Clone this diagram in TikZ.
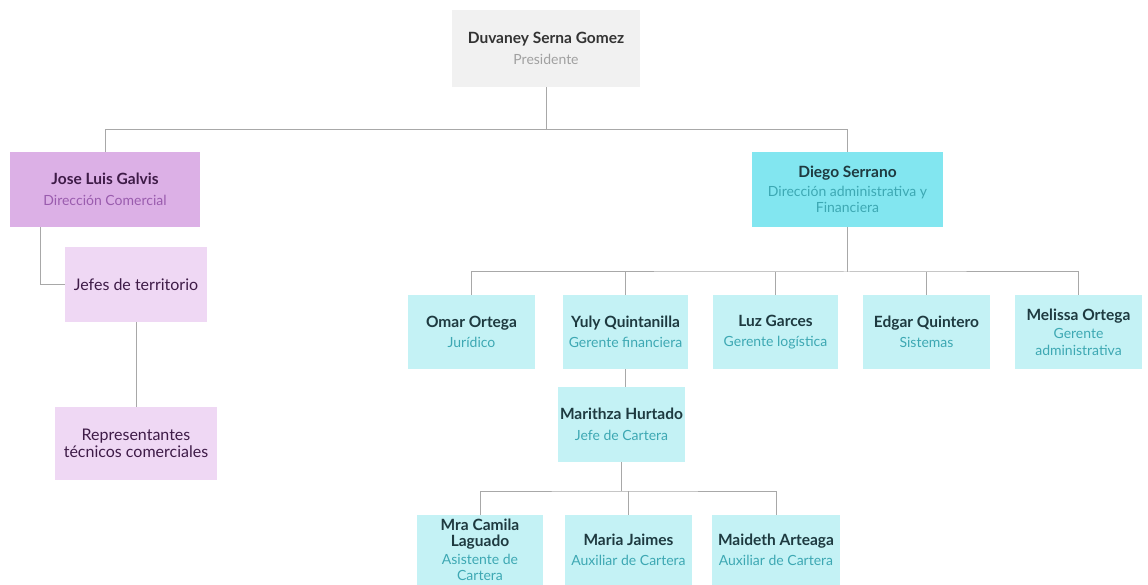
\documentclass[tikz,border=0pt]{standalone}
\usepackage{fontspec}
\setmainfont{Lato}
\definecolor{linegray}{HTML}{A8A8A8}
\definecolor{topfill}{HTML}{F1F1F1}
\definecolor{topname}{HTML}{333333}
\definecolor{topsub}{HTML}{A0A0A0}
\definecolor{comfill}{HTML}{DCB0E6}
\definecolor{comlight}{HTML}{EFD8F4}
\definecolor{comname}{HTML}{3E1B47}
\definecolor{comsub}{HTML}{9A5CAE}
\definecolor{finfill}{HTML}{82E6F0}
\definecolor{finlight}{HTML}{C4F2F5}
\definecolor{finname}{HTML}{1E3A40}
\definecolor{finsub}{HTML}{3DA8B3}
\tikzset{
  orgbox/.style={rectangle, inner sep=2pt, align=center,
    font=\fontsize{14}{16.5}\selectfont},
  wire/.style={draw=linegray, line width=1pt},
}
% switches for the name lines and the role lines of a box (one per line)
\newcommand\pname[1]{\color{#1}\bfseries\fontsize{15.5}{17}\selectfont}
\newcommand\plain[1]{\color{#1}\mdseries\fontsize{16}{19}\selectfont}
\newcommand\prole[1]{\color{#1}\mdseries\fontsize{14}{16.5}\selectfont}
\begin{document}
\begin{tikzpicture}[x=1pt, y=-1pt]
\useasboundingbox (0,0) rectangle (1148,585);

% president
\node[orgbox, fill=topfill, minimum width=188pt, minimum height=77pt] (duv) at (546,48.5)
  {\pname{topname}Duvaney Serna Gomez\\[4pt]\prole{topsub}Presidente};

% commercial branch
\node[orgbox, fill=comfill, minimum width=190pt, minimum height=75pt] (jose) at (105,189.5)
  {\pname{comname}Jose Luis Galvis\\[4pt]\prole{comsub}Dirección Comercial};
\node[orgbox, fill=comlight, minimum width=142pt, minimum height=75pt] (jefes) at (136,284.5)
  {\plain{comname}Jefes de territorio};
\node[orgbox, fill=comlight, minimum width=162pt, minimum height=73pt] (rep) at (136,443.5)
  {\plain{comname}Representantes\\\plain{comname}técnicos comerciales};

% administrative branch
\node[orgbox, fill=finfill, minimum width=191pt, minimum height=75pt] (diego) at (847.5,189.5)
  {\pname{finname}Diego Serrano\\[2pt]\prole{finsub}Dirección administrativa y\\\prole{finsub}Financiera};

\node[orgbox, fill=finlight, minimum width=127pt, minimum height=74pt] (omar) at (471.5,332)
  {\pname{finname}Omar Ortega\\[4pt]\prole{finsub}Jurídico};
\node[orgbox, fill=finlight, minimum width=125pt, minimum height=74pt] (yuly) at (625.5,332)
  {\pname{finname}Yuly Quintanilla\\[4pt]\prole{finsub}Gerente financiera};
\node[orgbox, fill=finlight, minimum width=125pt, minimum height=74pt] (luz) at (775.5,332)
  {\pname{finname}Luz Garces\\[4pt]\prole{finsub}Gerente logística};
\node[orgbox, fill=finlight, minimum width=127pt, minimum height=74pt] (edgar) at (926.5,332)
  {\pname{finname}Edgar Quintero\\[4pt]\prole{finsub}Sistemas};
\node[orgbox, fill=finlight, minimum width=127pt, minimum height=74pt] (melissa) at (1078.5,332)
  {\pname{finname}Melissa Ortega\\[2pt]\prole{finsub}Gerente\\\prole{finsub}administrativa};

\node[orgbox, fill=finlight, minimum width=127pt, minimum height=75pt] (maritza) at (621.5,424.5)
  {\pname{finname}Marithza Hurtado\\[4pt]\prole{finsub}Jefe de Cartera};

\node[orgbox, fill=finlight, minimum width=126pt, minimum height=70pt] (camila) at (480,550)
  {\pname{finname}Mra Camila\\\pname{finname}Laguado\\[1pt]\prole{finsub}Asistente de\\\prole{finsub}Cartera};
\node[orgbox, fill=finlight, minimum width=127pt, minimum height=70pt] (maria) at (628.5,550)
  {\pname{finname}Maria Jaimes\\[4pt]\prole{finsub}Auxiliar de Cartera};
\node[orgbox, fill=finlight, minimum width=128pt, minimum height=70pt] (maideth) at (776,550)
  {\pname{finname}Maideth Arteaga\\[4pt]\prole{finsub}Auxiliar de Cartera};

% connectors
\coordinate (bus1) at (546,130);
\coordinate (bus2) at (847.5,272);
\coordinate (bus3) at (621.5,491);

\draw[wire] (duv.south) -- (bus1) -| (jose.north);
\draw[wire] (bus1) -| (diego.north);

\draw[wire] ([xshift=-65pt]jose.south) |- (jefes.west);
\draw[wire] (jefes.south) -- (rep.north);

\draw[wire] (diego.south) -- (bus2);
\draw[wire] (omar.north) |- (bus2) -| (melissa.north);
\draw[wire] (yuly.north) -- (yuly.north |- bus2);
\draw[wire] (luz.north) -- (luz.north |- bus2);
\draw[wire] (edgar.north) -- (edgar.north |- bus2);

\draw[wire] (yuly.south) -- (yuly.south |- maritza.north);

\draw[wire] (maritza.south) -- (bus3);
\draw[wire] (camila.north) |- (bus3) -| (maideth.north);
\draw[wire] (maria.north) -- (maria.north |- bus3);
\end{tikzpicture}
\end{document}
